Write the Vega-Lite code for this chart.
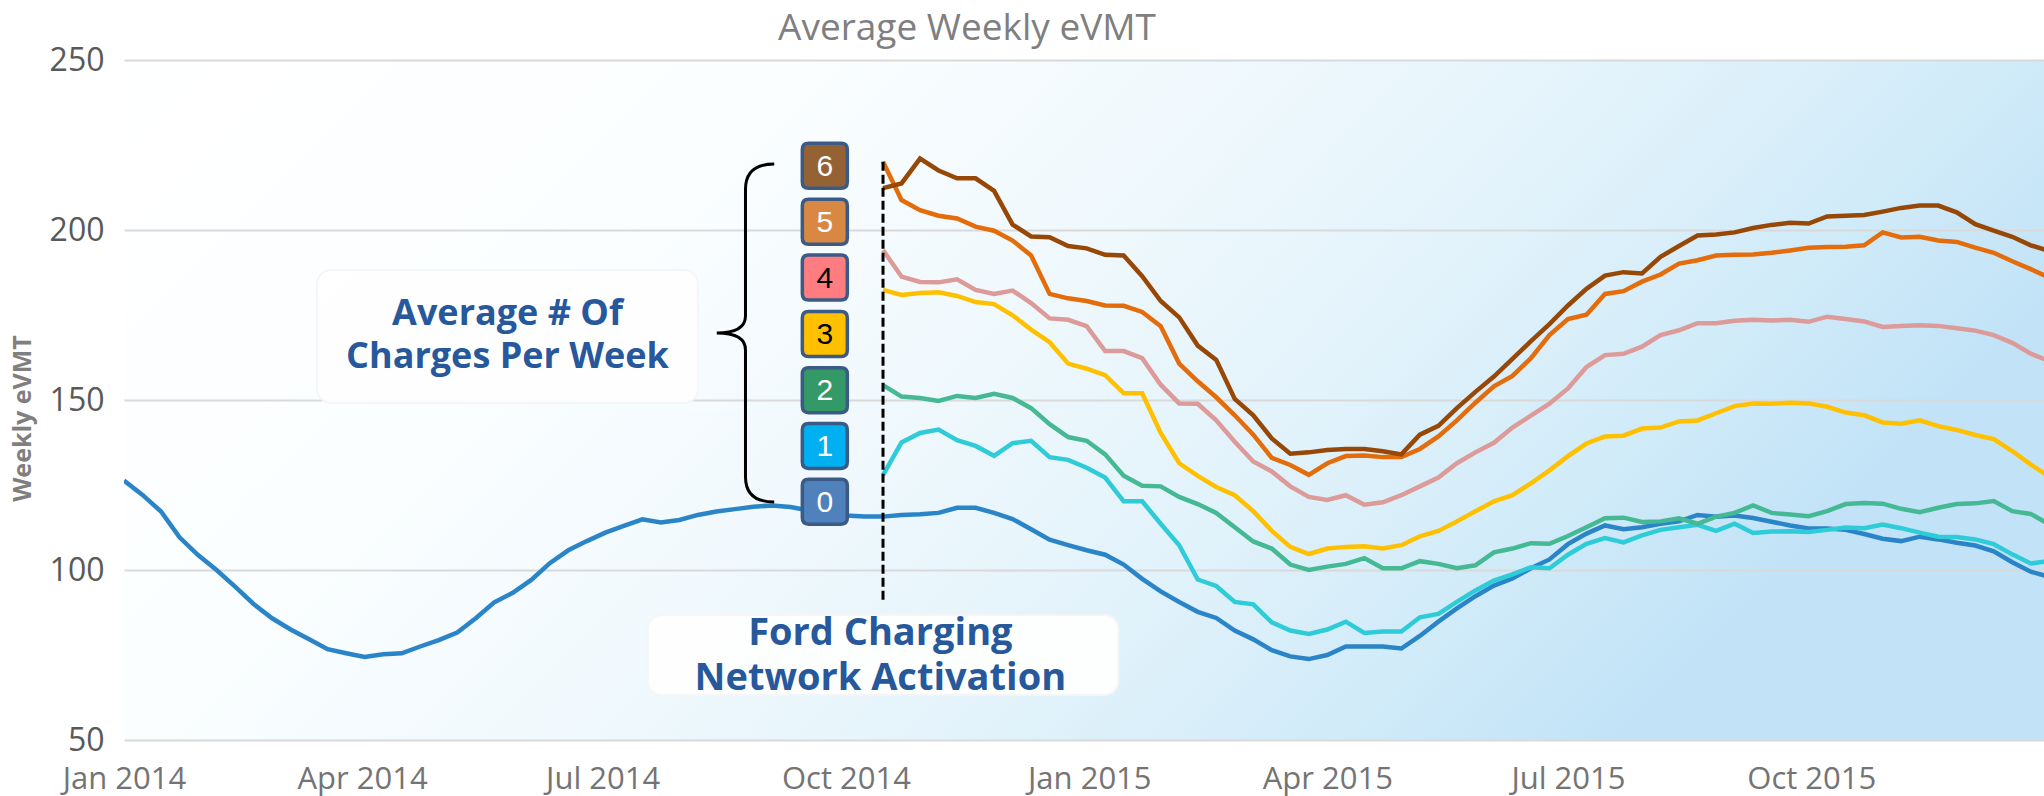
{
  "$schema": "https://vega.github.io/schema/vega-lite/v6.json",
  "width": 1920,
  "height": 680,
  "autosize": {"type": "none"},
  "padding": {"left": 124, "top": 60, "right": 0, "bottom": 56},
  "background": "#ffffff",
  "title": {"text": "Average Weekly eVMT", "font": "Open Sans", "fontSize": 37, "fontWeight": "normal", "color": "#7f7f7f", "anchor": "start", "frame": "group", "dx": 654, "offset": -41, "baseline": "bottom"},
  "config": {
    "view": {"stroke": null, "fill": {"gradient": "linear", "x1": 0, "y1": 0, "x2": 1, "y2": 0.35, "stops": [{"offset": 0, "color": "#ffffff"}, {"offset": 0.3, "color": "#fbfeff"}, {"offset": 0.5, "color": "#f1f9fd"}, {"offset": 0.7, "color": "#e3f3fb"}, {"offset": 0.85, "color": "#d3ecf9"}, {"offset": 1, "color": "#c2e3f7"}]}}
  },
  "datasets": {
    "series": [
      {"d":"2014-01-01","n":"0","v":126.3},{"d":"2014-01-08","n":"0","v":122.1},{"d":"2014-01-15","n":"0","v":117.2},{"d":"2014-01-22","n":"0","v":109.6},{"d":"2014-01-29","n":"0","v":104.4},{"d":"2014-02-05","n":"0","v":100.0},{"d":"2014-02-12","n":"0","v":95.1},{"d":"2014-02-19","n":"0","v":90.0},{"d":"2014-02-26","n":"0","v":85.8},{"d":"2014-03-05","n":"0","v":82.5},
      {"d":"2014-03-12","n":"0","v":79.6},{"d":"2014-03-19","n":"0","v":76.7},{"d":"2014-03-26","n":"0","v":75.5},{"d":"2014-04-02","n":"0","v":74.4},{"d":"2014-04-09","n":"0","v":75.2},{"d":"2014-04-16","n":"0","v":75.5},{"d":"2014-04-23","n":"0","v":77.5},{"d":"2014-04-30","n":"0","v":79.4},{"d":"2014-05-07","n":"0","v":81.6},{"d":"2014-05-14","n":"0","v":85.8},
      {"d":"2014-05-21","n":"0","v":90.5},{"d":"2014-05-28","n":"0","v":93.3},{"d":"2014-06-04","n":"0","v":97.1},{"d":"2014-06-11","n":"0","v":102.0},{"d":"2014-06-18","n":"0","v":105.8},{"d":"2014-06-25","n":"0","v":108.5},{"d":"2014-07-02","n":"0","v":111.0},{"d":"2014-07-09","n":"0","v":113.0},{"d":"2014-07-16","n":"0","v":114.9},{"d":"2014-07-23","n":"0","v":114.0},
      {"d":"2014-07-30","n":"0","v":114.7},{"d":"2014-08-06","n":"0","v":116.2},{"d":"2014-08-13","n":"0","v":117.2},{"d":"2014-08-20","n":"0","v":117.9},{"d":"2014-08-27","n":"0","v":118.6},{"d":"2014-09-03","n":"0","v":119.0},{"d":"2014-09-10","n":"0","v":118.5},{"d":"2014-09-17","n":"0","v":117.5},{"d":"2014-09-24","n":"0","v":116.5},{"d":"2014-10-01","n":"0","v":116.0},
      {"d":"2014-10-08","n":"0","v":115.7},{"d":"2014-10-15","n":"0","v":115.7},{"d":"2014-10-22","n":"0","v":116.2},{"d":"2014-10-29","n":"0","v":116.4},{"d":"2014-11-05","n":"0","v":116.8},{"d":"2014-11-12","n":"0","v":118.3},{"d":"2014-11-19","n":"0","v":118.3},{"d":"2014-11-26","n":"0","v":116.8},{"d":"2014-12-03","n":"0","v":115.0},{"d":"2014-12-10","n":"0","v":112.0},
      {"d":"2014-12-17","n":"0","v":108.9},{"d":"2014-12-24","n":"0","v":107.3},{"d":"2014-12-31","n":"0","v":105.8},{"d":"2015-01-07","n":"0","v":104.5},{"d":"2015-01-14","n":"0","v":101.6},{"d":"2015-01-21","n":"0","v":97.4},{"d":"2015-01-28","n":"0","v":93.7},{"d":"2015-02-04","n":"0","v":90.6},{"d":"2015-02-11","n":"0","v":87.7},{"d":"2015-02-18","n":"0","v":85.9},
      {"d":"2015-02-25","n":"0","v":82.2},{"d":"2015-03-04","n":"0","v":79.6},{"d":"2015-03-11","n":"0","v":76.4},{"d":"2015-03-18","n":"0","v":74.6},{"d":"2015-03-25","n":"0","v":73.8},{"d":"2015-04-01","n":"0","v":75.0},{"d":"2015-04-08","n":"0","v":77.5},{"d":"2015-04-15","n":"0","v":77.5},{"d":"2015-04-22","n":"0","v":77.5},{"d":"2015-04-29","n":"0","v":76.9},
      {"d":"2015-05-06","n":"0","v":80.6},{"d":"2015-05-13","n":"0","v":84.8},{"d":"2015-05-20","n":"0","v":88.7},{"d":"2015-05-27","n":"0","v":92.3},{"d":"2015-06-03","n":"0","v":95.4},{"d":"2015-06-10","n":"0","v":97.5},{"d":"2015-06-17","n":"0","v":100.5},{"d":"2015-06-24","n":"0","v":103.1},{"d":"2015-07-01","n":"0","v":107.6},{"d":"2015-07-08","n":"0","v":110.7},
      {"d":"2015-07-15","n":"0","v":113.1},{"d":"2015-07-22","n":"0","v":112.0},{"d":"2015-07-29","n":"0","v":112.6},{"d":"2015-08-05","n":"0","v":113.6},{"d":"2015-08-12","n":"0","v":114.3},{"d":"2015-08-19","n":"0","v":116.2},{"d":"2015-08-26","n":"0","v":115.7},{"d":"2015-09-02","n":"0","v":116.0},{"d":"2015-09-09","n":"0","v":115.3},{"d":"2015-09-16","n":"0","v":114.2},
      {"d":"2015-09-23","n":"0","v":113.1},{"d":"2015-09-30","n":"0","v":112.2},{"d":"2015-10-07","n":"0","v":112.2},{"d":"2015-10-14","n":"0","v":111.8},{"d":"2015-10-21","n":"0","v":110.6},{"d":"2015-10-28","n":"0","v":109.2},{"d":"2015-11-04","n":"0","v":108.5},{"d":"2015-11-11","n":"0","v":109.8},{"d":"2015-11-18","n":"0","v":109.0},{"d":"2015-11-25","n":"0","v":108.0},
      {"d":"2015-12-02","n":"0","v":107.2},{"d":"2015-12-09","n":"0","v":105.5},{"d":"2015-12-16","n":"0","v":102.3},{"d":"2015-12-23","n":"0","v":99.5},{"d":"2015-12-30","n":"0","v":98.0},

      {"d":"2014-10-15","n":"1","v":127.9},{"d":"2014-10-22","n":"1","v":137.5},{"d":"2014-10-29","n":"1","v":140.3},{"d":"2014-11-05","n":"1","v":141.3},{"d":"2014-11-12","n":"1","v":138.2},{"d":"2014-11-19","n":"1","v":136.5},{"d":"2014-11-26","n":"1","v":133.6},{"d":"2014-12-03","n":"1","v":137.3},{"d":"2014-12-10","n":"1","v":138.0},{"d":"2014-12-17","n":"1","v":133.2},
      {"d":"2014-12-24","n":"1","v":132.4},{"d":"2014-12-31","n":"1","v":130.1},{"d":"2015-01-07","n":"1","v":127.2},{"d":"2015-01-14","n":"1","v":120.2},{"d":"2015-01-21","n":"1","v":120.2},{"d":"2015-01-28","n":"1","v":113.6},{"d":"2015-02-04","n":"1","v":107.3},{"d":"2015-02-11","n":"1","v":97.2},{"d":"2015-02-18","n":"1","v":95.3},{"d":"2015-02-25","n":"1","v":90.6},
      {"d":"2015-03-04","n":"1","v":89.9},{"d":"2015-03-11","n":"1","v":84.6},{"d":"2015-03-18","n":"1","v":82.2},{"d":"2015-03-25","n":"1","v":81.2},{"d":"2015-04-01","n":"1","v":82.5},{"d":"2015-04-08","n":"1","v":84.8},{"d":"2015-04-15","n":"1","v":81.5},{"d":"2015-04-22","n":"1","v":81.9},{"d":"2015-04-29","n":"1","v":81.9},{"d":"2015-05-06","n":"1","v":86.1},
      {"d":"2015-05-13","n":"1","v":87.1},{"d":"2015-05-20","n":"1","v":90.6},{"d":"2015-05-27","n":"1","v":94.0},{"d":"2015-06-03","n":"1","v":96.9},{"d":"2015-06-10","n":"1","v":98.7},{"d":"2015-06-17","n":"1","v":100.8},{"d":"2015-06-24","n":"1","v":100.5},{"d":"2015-07-01","n":"1","v":104.5},{"d":"2015-07-08","n":"1","v":107.7},{"d":"2015-07-15","n":"1","v":109.4},
      {"d":"2015-07-22","n":"1","v":108.1},{"d":"2015-07-29","n":"1","v":110.2},{"d":"2015-08-05","n":"1","v":111.8},{"d":"2015-08-12","n":"1","v":112.6},{"d":"2015-08-19","n":"1","v":113.3},{"d":"2015-08-26","n":"1","v":111.5},{"d":"2015-09-02","n":"1","v":113.6},{"d":"2015-09-09","n":"1","v":110.9},{"d":"2015-09-16","n":"1","v":111.3},{"d":"2015-09-23","n":"1","v":111.4},
      {"d":"2015-09-30","n":"1","v":111.2},{"d":"2015-10-07","n":"1","v":111.8},{"d":"2015-10-14","n":"1","v":112.5},{"d":"2015-10-21","n":"1","v":112.3},{"d":"2015-10-28","n":"1","v":113.4},{"d":"2015-11-04","n":"1","v":112.3},{"d":"2015-11-11","n":"1","v":111.0},{"d":"2015-11-18","n":"1","v":109.8},{"d":"2015-11-25","n":"1","v":109.7},{"d":"2015-12-02","n":"1","v":109.0},
      {"d":"2015-12-09","n":"1","v":107.6},{"d":"2015-12-16","n":"1","v":104.6},{"d":"2015-12-23","n":"1","v":101.9},{"d":"2015-12-30","n":"1","v":102.6},

      {"d":"2014-10-15","n":"2","v":154.4},{"d":"2014-10-22","n":"2","v":151.0},{"d":"2014-10-29","n":"2","v":150.6},{"d":"2014-11-05","n":"2","v":149.7},{"d":"2014-11-12","n":"2","v":151.2},{"d":"2014-11-19","n":"2","v":150.6},{"d":"2014-11-26","n":"2","v":151.8},{"d":"2014-12-03","n":"2","v":150.6},{"d":"2014-12-10","n":"2","v":147.6},{"d":"2014-12-17","n":"2","v":142.9},
      {"d":"2014-12-24","n":"2","v":139.1},{"d":"2014-12-31","n":"2","v":138.0},{"d":"2015-01-07","n":"2","v":134.0},{"d":"2015-01-14","n":"2","v":127.7},{"d":"2015-01-21","n":"2","v":124.8},{"d":"2015-01-28","n":"2","v":124.6},{"d":"2015-02-04","n":"2","v":121.5},{"d":"2015-02-11","n":"2","v":119.4},{"d":"2015-02-18","n":"2","v":116.8},{"d":"2015-02-25","n":"2","v":112.6},
      {"d":"2015-03-04","n":"2","v":108.4},{"d":"2015-03-11","n":"2","v":106.3},{"d":"2015-03-18","n":"2","v":101.6},{"d":"2015-03-25","n":"2","v":100.0},{"d":"2015-04-01","n":"2","v":101.0},{"d":"2015-04-08","n":"2","v":101.8},{"d":"2015-04-15","n":"2","v":103.5},{"d":"2015-04-22","n":"2","v":100.5},{"d":"2015-04-29","n":"2","v":100.5},{"d":"2015-05-06","n":"2","v":102.6},
      {"d":"2015-05-13","n":"2","v":101.8},{"d":"2015-05-20","n":"2","v":100.5},{"d":"2015-05-27","n":"2","v":101.4},{"d":"2015-06-03","n":"2","v":105.2},{"d":"2015-06-10","n":"2","v":106.3},{"d":"2015-06-17","n":"2","v":107.9},{"d":"2015-06-24","n":"2","v":107.7},{"d":"2015-07-01","n":"2","v":110.0},{"d":"2015-07-08","n":"2","v":112.6},{"d":"2015-07-15","n":"2","v":115.2},
      {"d":"2015-07-22","n":"2","v":115.4},{"d":"2015-07-29","n":"2","v":114.1},{"d":"2015-08-05","n":"2","v":114.3},{"d":"2015-08-12","n":"2","v":115.2},{"d":"2015-08-19","n":"2","v":113.6},{"d":"2015-08-26","n":"2","v":115.7},{"d":"2015-09-02","n":"2","v":116.8},{"d":"2015-09-09","n":"2","v":119.0},{"d":"2015-09-16","n":"2","v":116.8},{"d":"2015-09-23","n":"2","v":116.3},
      {"d":"2015-09-30","n":"2","v":115.8},{"d":"2015-10-07","n":"2","v":117.3},{"d":"2015-10-14","n":"2","v":119.4},{"d":"2015-10-21","n":"2","v":119.7},{"d":"2015-10-28","n":"2","v":119.5},{"d":"2015-11-04","n":"2","v":118.0},{"d":"2015-11-11","n":"2","v":117.0},{"d":"2015-11-18","n":"2","v":118.3},{"d":"2015-11-25","n":"2","v":119.4},{"d":"2015-12-02","n":"2","v":119.6},
      {"d":"2015-12-09","n":"2","v":120.3},{"d":"2015-12-16","n":"2","v":117.3},{"d":"2015-12-23","n":"2","v":116.5},{"d":"2015-12-30","n":"2","v":113.4},

      {"d":"2014-10-15","n":"3","v":182.4},{"d":"2014-10-22","n":"3","v":180.9},{"d":"2014-10-29","n":"3","v":181.5},{"d":"2014-11-05","n":"3","v":181.7},{"d":"2014-11-12","n":"3","v":180.6},{"d":"2014-11-19","n":"3","v":178.8},{"d":"2014-11-26","n":"3","v":178.2},{"d":"2014-12-03","n":"3","v":174.9},{"d":"2014-12-10","n":"3","v":170.7},{"d":"2014-12-17","n":"3","v":167.0},
      {"d":"2014-12-24","n":"3","v":160.7},{"d":"2014-12-31","n":"3","v":159.2},{"d":"2015-01-07","n":"3","v":157.3},{"d":"2015-01-14","n":"3","v":152.0},{"d":"2015-01-21","n":"3","v":152.0},{"d":"2015-01-28","n":"3","v":140.3},{"d":"2015-02-04","n":"3","v":131.4},{"d":"2015-02-11","n":"3","v":127.7},{"d":"2015-02-18","n":"3","v":124.4},{"d":"2015-02-25","n":"3","v":122.0},
      {"d":"2015-03-04","n":"3","v":117.3},{"d":"2015-03-11","n":"3","v":111.5},{"d":"2015-03-18","n":"3","v":106.8},{"d":"2015-03-25","n":"3","v":104.7},{"d":"2015-04-01","n":"3","v":106.3},{"d":"2015-04-08","n":"3","v":106.8},{"d":"2015-04-15","n":"3","v":107.0},{"d":"2015-04-22","n":"3","v":106.3},{"d":"2015-04-29","n":"3","v":107.3},{"d":"2015-05-06","n":"3","v":109.9},
      {"d":"2015-05-13","n":"3","v":111.5},{"d":"2015-05-20","n":"3","v":114.3},{"d":"2015-05-27","n":"3","v":117.3},{"d":"2015-06-03","n":"3","v":120.2},{"d":"2015-06-10","n":"3","v":122.0},{"d":"2015-06-17","n":"3","v":125.5},{"d":"2015-06-24","n":"3","v":129.3},{"d":"2015-07-01","n":"3","v":133.5},{"d":"2015-07-08","n":"3","v":137.2},{"d":"2015-07-15","n":"3","v":139.3},
      {"d":"2015-07-22","n":"3","v":139.5},{"d":"2015-07-29","n":"3","v":141.6},{"d":"2015-08-05","n":"3","v":141.9},{"d":"2015-08-12","n":"3","v":143.7},{"d":"2015-08-19","n":"3","v":144.0},{"d":"2015-08-26","n":"3","v":146.1},{"d":"2015-09-02","n":"3","v":148.2},{"d":"2015-09-09","n":"3","v":149.0},{"d":"2015-09-16","n":"3","v":148.9},{"d":"2015-09-23","n":"3","v":149.2},
      {"d":"2015-09-30","n":"3","v":149.0},{"d":"2015-10-07","n":"3","v":148.0},{"d":"2015-10-14","n":"3","v":146.3},{"d":"2015-10-21","n":"3","v":145.5},{"d":"2015-10-28","n":"3","v":143.4},{"d":"2015-11-04","n":"3","v":143.0},{"d":"2015-11-11","n":"3","v":144.0},{"d":"2015-11-18","n":"3","v":142.3},{"d":"2015-11-25","n":"3","v":141.2},{"d":"2015-12-02","n":"3","v":139.7},
      {"d":"2015-12-09","n":"3","v":138.5},{"d":"2015-12-16","n":"3","v":135.0},{"d":"2015-12-23","n":"3","v":131.0},{"d":"2015-12-30","n":"3","v":127.5},

      {"d":"2014-10-15","n":"4","v":194.1},{"d":"2014-10-22","n":"4","v":186.3},{"d":"2014-10-29","n":"4","v":184.7},{"d":"2014-11-05","n":"4","v":184.6},{"d":"2014-11-12","n":"4","v":185.5},{"d":"2014-11-19","n":"4","v":182.4},{"d":"2014-11-26","n":"4","v":181.2},{"d":"2014-12-03","n":"4","v":182.2},{"d":"2014-12-10","n":"4","v":178.5},{"d":"2014-12-17","n":"4","v":174.0},
      {"d":"2014-12-24","n":"4","v":173.6},{"d":"2014-12-31","n":"4","v":171.7},{"d":"2015-01-07","n":"4","v":164.4},{"d":"2015-01-14","n":"4","v":164.4},{"d":"2015-01-21","n":"4","v":162.3},{"d":"2015-01-28","n":"4","v":154.5},{"d":"2015-02-04","n":"4","v":149.0},{"d":"2015-02-11","n":"4","v":148.9},{"d":"2015-02-18","n":"4","v":144.0},{"d":"2015-02-25","n":"4","v":137.7},
      {"d":"2015-03-04","n":"4","v":131.9},{"d":"2015-03-11","n":"4","v":129.0},{"d":"2015-03-18","n":"4","v":124.6},{"d":"2015-03-25","n":"4","v":121.5},{"d":"2015-04-01","n":"4","v":120.6},{"d":"2015-04-08","n":"4","v":122.0},{"d":"2015-04-15","n":"4","v":119.2},{"d":"2015-04-22","n":"4","v":119.9},{"d":"2015-04-29","n":"4","v":122.0},{"d":"2015-05-06","n":"4","v":124.6},
      {"d":"2015-05-13","n":"4","v":127.2},{"d":"2015-05-20","n":"4","v":131.4},{"d":"2015-05-27","n":"4","v":134.6},{"d":"2015-06-03","n":"4","v":137.4},{"d":"2015-06-10","n":"4","v":141.9},{"d":"2015-06-17","n":"4","v":145.4},{"d":"2015-06-24","n":"4","v":148.9},{"d":"2015-07-01","n":"4","v":153.4},{"d":"2015-07-08","n":"4","v":159.7},{"d":"2015-07-15","n":"4","v":163.2},
      {"d":"2015-07-22","n":"4","v":163.6},{"d":"2015-07-29","n":"4","v":165.7},{"d":"2015-08-05","n":"4","v":169.1},{"d":"2015-08-12","n":"4","v":170.5},{"d":"2015-08-19","n":"4","v":172.6},{"d":"2015-08-26","n":"4","v":172.6},{"d":"2015-09-02","n":"4","v":173.3},{"d":"2015-09-09","n":"4","v":173.6},{"d":"2015-09-16","n":"4","v":173.4},{"d":"2015-09-23","n":"4","v":173.6},
      {"d":"2015-09-30","n":"4","v":173.0},{"d":"2015-10-07","n":"4","v":174.5},{"d":"2015-10-14","n":"4","v":173.8},{"d":"2015-10-21","n":"4","v":173.1},{"d":"2015-10-28","n":"4","v":171.5},{"d":"2015-11-04","n":"4","v":171.8},{"d":"2015-11-11","n":"4","v":172.0},{"d":"2015-11-18","n":"4","v":171.8},{"d":"2015-11-25","n":"4","v":171.1},{"d":"2015-12-02","n":"4","v":170.4},
      {"d":"2015-12-09","n":"4","v":169.1},{"d":"2015-12-16","n":"4","v":166.8},{"d":"2015-12-23","n":"4","v":163.6},{"d":"2015-12-30","n":"4","v":161.5},

      {"d":"2014-10-15","n":"5","v":220.1},{"d":"2014-10-22","n":"5","v":208.8},{"d":"2014-10-29","n":"5","v":205.8},{"d":"2014-11-05","n":"5","v":204.2},{"d":"2014-11-12","n":"5","v":203.4},{"d":"2014-11-19","n":"5","v":201.0},{"d":"2014-11-26","n":"5","v":199.8},{"d":"2014-12-03","n":"5","v":196.9},{"d":"2014-12-10","n":"5","v":192.5},{"d":"2014-12-17","n":"5","v":181.2},
      {"d":"2014-12-24","n":"5","v":179.9},{"d":"2014-12-31","n":"5","v":179.1},{"d":"2015-01-07","n":"5","v":177.8},{"d":"2015-01-14","n":"5","v":177.7},{"d":"2015-01-21","n":"5","v":175.9},{"d":"2015-01-28","n":"5","v":171.7},{"d":"2015-02-04","n":"5","v":160.7},{"d":"2015-02-11","n":"5","v":155.5},{"d":"2015-02-18","n":"5","v":150.8},{"d":"2015-02-25","n":"5","v":145.5},
      {"d":"2015-03-04","n":"5","v":139.8},{"d":"2015-03-11","n":"5","v":133.0},{"d":"2015-03-18","n":"5","v":130.9},{"d":"2015-03-25","n":"5","v":128.0},{"d":"2015-04-01","n":"5","v":131.4},{"d":"2015-04-08","n":"5","v":133.5},{"d":"2015-04-15","n":"5","v":133.7},{"d":"2015-04-22","n":"5","v":133.2},{"d":"2015-04-29","n":"5","v":133.2},{"d":"2015-05-06","n":"5","v":135.6},
      {"d":"2015-05-13","n":"5","v":139.3},{"d":"2015-05-20","n":"5","v":144.0},{"d":"2015-05-27","n":"5","v":149.2},{"d":"2015-06-03","n":"5","v":154.0},{"d":"2015-06-10","n":"5","v":157.1},{"d":"2015-06-17","n":"5","v":162.3},{"d":"2015-06-24","n":"5","v":169.1},{"d":"2015-07-01","n":"5","v":173.8},{"d":"2015-07-08","n":"5","v":175.1},{"d":"2015-07-15","n":"5","v":181.2},
      {"d":"2015-07-22","n":"5","v":182.0},{"d":"2015-07-29","n":"5","v":184.8},{"d":"2015-08-05","n":"5","v":186.9},{"d":"2015-08-12","n":"5","v":190.1},{"d":"2015-08-19","n":"5","v":191.1},{"d":"2015-08-26","n":"5","v":192.5},{"d":"2015-09-02","n":"5","v":192.7},{"d":"2015-09-09","n":"5","v":192.8},{"d":"2015-09-16","n":"5","v":193.3},{"d":"2015-09-23","n":"5","v":194.0},
      {"d":"2015-09-30","n":"5","v":194.8},{"d":"2015-10-07","n":"5","v":195.0},{"d":"2015-10-14","n":"5","v":195.1},{"d":"2015-10-21","n":"5","v":195.5},{"d":"2015-10-28","n":"5","v":199.3},{"d":"2015-11-04","n":"5","v":197.8},{"d":"2015-11-11","n":"5","v":198.0},{"d":"2015-11-18","n":"5","v":196.9},{"d":"2015-11-25","n":"5","v":196.5},{"d":"2015-12-02","n":"5","v":194.8},
      {"d":"2015-12-09","n":"5","v":193.3},{"d":"2015-12-16","n":"5","v":190.8},{"d":"2015-12-23","n":"5","v":188.5},{"d":"2015-12-30","n":"5","v":186.0},

      {"d":"2014-10-15","n":"6","v":212.3},{"d":"2014-10-22","n":"6","v":213.7},{"d":"2014-10-29","n":"6","v":221.0},{"d":"2014-11-05","n":"6","v":217.5},{"d":"2014-11-12","n":"6","v":215.2},{"d":"2014-11-19","n":"6","v":215.2},{"d":"2014-11-26","n":"6","v":211.5},{"d":"2014-12-03","n":"6","v":201.6},{"d":"2014-12-10","n":"6","v":198.1},{"d":"2014-12-17","n":"6","v":197.9},
      {"d":"2014-12-24","n":"6","v":195.3},{"d":"2014-12-31","n":"6","v":194.6},{"d":"2015-01-07","n":"6","v":192.7},{"d":"2015-01-14","n":"6","v":192.5},{"d":"2015-01-21","n":"6","v":186.4},{"d":"2015-01-28","n":"6","v":179.1},{"d":"2015-02-04","n":"6","v":174.3},{"d":"2015-02-11","n":"6","v":166.0},{"d":"2015-02-18","n":"6","v":161.8},{"d":"2015-02-25","n":"6","v":150.3},
      {"d":"2015-03-04","n":"6","v":145.5},{"d":"2015-03-11","n":"6","v":138.7},{"d":"2015-03-18","n":"6","v":134.2},{"d":"2015-03-25","n":"6","v":134.6},{"d":"2015-04-01","n":"6","v":135.3},{"d":"2015-04-08","n":"6","v":135.6},{"d":"2015-04-15","n":"6","v":135.6},{"d":"2015-04-22","n":"6","v":134.9},{"d":"2015-04-29","n":"6","v":134.0},{"d":"2015-05-06","n":"6","v":139.8},
      {"d":"2015-05-13","n":"6","v":142.4},{"d":"2015-05-20","n":"6","v":147.6},{"d":"2015-05-27","n":"6","v":152.4},{"d":"2015-06-03","n":"6","v":156.9},{"d":"2015-06-10","n":"6","v":162.1},{"d":"2015-06-17","n":"6","v":167.3},{"d":"2015-06-24","n":"6","v":172.3},{"d":"2015-07-01","n":"6","v":177.8},{"d":"2015-07-08","n":"6","v":182.7},{"d":"2015-07-15","n":"6","v":186.6},
      {"d":"2015-07-22","n":"6","v":187.6},{"d":"2015-07-29","n":"6","v":187.2},{"d":"2015-08-05","n":"6","v":192.1},{"d":"2015-08-12","n":"6","v":195.3},{"d":"2015-08-19","n":"6","v":198.4},{"d":"2015-08-26","n":"6","v":198.7},{"d":"2015-09-02","n":"6","v":199.3},{"d":"2015-09-09","n":"6","v":200.6},{"d":"2015-09-16","n":"6","v":201.5},{"d":"2015-09-23","n":"6","v":202.1},
      {"d":"2015-09-30","n":"6","v":201.9},{"d":"2015-10-07","n":"6","v":204.0},{"d":"2015-10-14","n":"6","v":204.2},{"d":"2015-10-21","n":"6","v":204.4},{"d":"2015-10-28","n":"6","v":205.4},{"d":"2015-11-04","n":"6","v":206.5},{"d":"2015-11-11","n":"6","v":207.2},{"d":"2015-11-18","n":"6","v":207.2},{"d":"2015-11-25","n":"6","v":205.2},{"d":"2015-12-02","n":"6","v":201.7},
      {"d":"2015-12-09","n":"6","v":199.8},{"d":"2015-12-16","n":"6","v":198.0},{"d":"2015-12-23","n":"6","v":195.5},{"d":"2015-12-30","n":"6","v":193.8}
    ],
    "panels": [
      {"d1": "2014-03-15", "d2": "2014-08-06", "v1": 188.2, "v2": 149.1},
      {"d1": "2014-07-18", "d2": "2015-01-12", "v1": 86.8, "v2": 63.2}
    ],
    "activation": [{"d": "2014-10-15", "v1": 220.1, "v2": 91.2}],
    "brace": [{"d": "2014-08-24", "v": 169.7}],
    "keys": [
      {"n": "6", "d": "2014-09-23", "v": 218.9},
      {"n": "5", "d": "2014-09-23", "v": 202.4},
      {"n": "4", "d": "2014-09-23", "v": 186.0},
      {"n": "3", "d": "2014-09-23", "v": 169.4},
      {"n": "2", "d": "2014-09-23", "v": 152.9},
      {"n": "1", "d": "2014-09-23", "v": 136.5},
      {"n": "0", "d": "2014-09-23", "v": 120.1}
    ],
    "note1": [{"d": "2014-05-26", "v": 172.1}],
    "note2": [{"d": "2014-10-14", "v": 77.9}]
  },
  "layer": [
    {
      "data": {"name": "panels"},
      "mark": {"type": "rect", "fill": "#ffffff", "opacity": 0.94, "cornerRadius": 14, "stroke": "#f5f6f7", "strokeWidth": 2},
      "encoding": {
        "x": {"field": "d1", "type": "temporal", "scale": {"type": "utc", "domain": [{"year": 2014, "month": 1, "date": 1, "utc": true}, {"year": 2015, "month": 12, "date": 28, "utc": true}]},
          "axis": {"values": [{"year": 2014, "month": 1, "date": 1, "utc": true}, {"year": 2014, "month": 4, "date": 1, "utc": true}, {"year": 2014, "month": 7, "date": 1, "utc": true}, {"year": 2014, "month": 10, "date": 1, "utc": true}, {"year": 2015, "month": 1, "date": 1, "utc": true}, {"year": 2015, "month": 4, "date": 1, "utc": true}, {"year": 2015, "month": 7, "date": 1, "utc": true}, {"year": 2015, "month": 10, "date": 1, "utc": true}],
            "format": "%b %Y", "grid": false, "domain": false, "ticks": false, "tickSize": 0, "labelPadding": 24, "labelFont": "Open Sans", "labelFontSize": 31, "labelColor": "#747474", "labelFlush": false, "labelOverlap": false, "title": null}},
        "x2": {"field": "d2"},
        "y": {"field": "v1", "type": "quantitative", "scale": {"domain": [50, 250], "nice": false, "zero": false},
          "axis": {"values": [50, 100, 150, 200, 250], "grid": true, "gridColor": "#d9d9d9", "gridWidth": 2, "domain": false, "ticks": false, "tickSize": 0, "labelPadding": 20, "labelFont": "Open Sans", "labelFontSize": 32, "labelColor": "#595959",
            "title": "Weekly eVMT", "titleFont": "Open Sans", "titleFontSize": 25, "titleFontWeight": "bold", "titleColor": "#7f7f7f", "titleAngle": -90, "titleX": -102, "titleY": 358, "titleAlign": "center", "titleBaseline": "middle"}},
        "y2": {"field": "v2"}
      }
    },
    {
      "data": {"name": "series"},
      "mark": {"type": "line", "strokeWidth": 4.5, "clip": true},
      "encoding": {
        "x": {"field": "d", "type": "temporal"},
        "y": {"field": "v", "type": "quantitative"},
        "stroke": {"field": "n", "type": "nominal", "scale": {"domain": ["0", "1", "2", "3", "4", "5", "6"], "range": ["#2a84c8", "#2ecbd8", "#45b994", "#ffc000", "#dc9a98", "#e46c0a", "#974806"]}, "legend": null}
      }
    },
    {
      "data": {"name": "activation"},
      "mark": {"type": "rule", "color": "#000000", "strokeWidth": 3, "strokeDash": [9, 4]},
      "encoding": {
        "x": {"field": "d", "type": "temporal"},
        "y": {"field": "v1", "type": "quantitative"},
        "y2": {"field": "v2"}
      }
    },
    {
      "data": {"name": "brace"},
      "mark": {"type": "point", "shape": "M 0.17 -1 Q 0 -1 0 -0.85 L 0 -0.1 Q 0 0 -0.17 0 Q 0 0 0 0.1 L 0 0.85 Q 0 1 0.17 1", "size": 114244, "filled": false, "stroke": "#000000", "strokeWidth": 3, "opacity": 1},
      "encoding": {
        "x": {"field": "d", "type": "temporal"},
        "y": {"field": "v", "type": "quantitative"}
      }
    },
    {
      "data": {"name": "keys"},
      "mark": {"type": "point", "shape": "M -0.72 -1 L 0.72 -1 Q 1 -1 1 -0.72 L 1 0.72 Q 1 1 0.72 1 L -0.72 1 Q -1 1 -1 0.72 L -1 -0.72 Q -1 -1 -0.72 -1 Z", "size": 2025, "filled": true, "stroke": "#3b5a85", "strokeWidth": 3.5, "opacity": 1},
      "encoding": {
        "x": {"field": "d", "type": "temporal"},
        "y": {"field": "v", "type": "quantitative"},
        "fill": {"field": "n", "type": "nominal", "scale": {"domain": ["0", "1", "2", "3", "4", "5", "6"], "range": ["#4f81bd", "#00b0f0", "#339966", "#ffc000", "#ff7c80", "#d98843", "#956234"]}, "legend": null}
      }
    },
    {
      "data": {"name": "keys"},
      "mark": {"type": "text", "font": "Liberation Sans", "fontSize": 30, "baseline": "middle", "align": "center", "dy": 1},
      "encoding": {
        "x": {"field": "d", "type": "temporal"},
        "y": {"field": "v", "type": "quantitative"},
        "text": {"field": "n"},
        "color": {"condition": {"test": "datum.n == '3' || datum.n == '4'", "value": "#000000"}, "value": "#ffffff"}
      }
    },
    {
      "data": {"name": "note1"},
      "mark": {"type": "text", "text": ["Average # Of", "Charges Per Week"], "font": "Open Sans", "fontSize": 36, "fontWeight": "bold", "color": "#26589b", "align": "center", "baseline": "alphabetic", "lineHeight": 43},
      "encoding": {
        "x": {"field": "d", "type": "temporal"},
        "y": {"field": "v", "type": "quantitative"}
      }
    },
    {
      "data": {"name": "note2"},
      "mark": {"type": "text", "text": ["Ford Charging", "Network Activation"], "font": "Open Sans", "fontSize": 38, "fontWeight": "bold", "color": "#26589b", "align": "center", "baseline": "alphabetic", "lineHeight": 45},
      "encoding": {
        "x": {"field": "d", "type": "temporal"},
        "y": {"field": "v", "type": "quantitative"}
      }
    }
  ]
}
